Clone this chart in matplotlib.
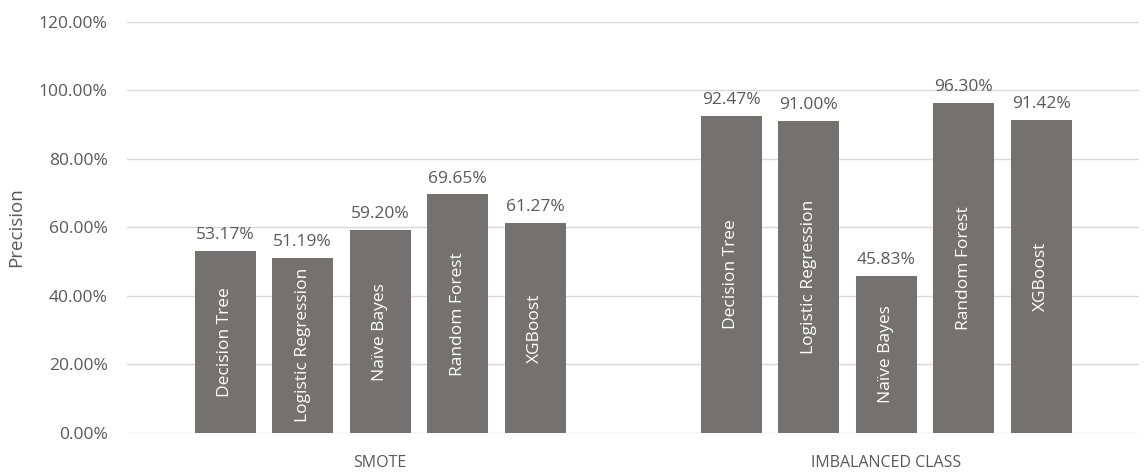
import numpy as np
import matplotlib.pyplot as plt
from matplotlib.ticker import FuncFormatter

# data
groups = ["SMOTE", "IMBALANCED CLASS"]
models = ["Decision Tree", "Logistic Regression", "Naïve Bayes", "Random Forest", "XGBoost"]
smote = [53.17, 51.19, 59.20, 69.65, 61.27]
imbalanced = [92.47, 91.00, 45.83, 96.30, 91.42]

BAR = "#767171"
TXT = "#595959"
GRID = "#d9d9d9"

plt.rcParams["font.family"] = ["Open Sans", "DejaVu Sans"]

fig = plt.figure(figsize=(11.45, 4.73), dpi=100)
ax = fig.add_axes([0.111, 0.0846, 0.8838, 0.869])

step = 0.1532
width = 0.1205
for g, vals in enumerate([smote, imbalanced]):
    xs = g + (np.arange(len(models)) - 2) * step
    ax.bar(xs, vals, width=width, color=BAR, zorder=2)
    for x, v, name in zip(xs, vals, models):
        ax.text(x, v + 2.3, f"{v:.2f}%", ha="center", va="bottom",
                fontsize=12.5, color=TXT)
        ax.text(x, v / 2, name, ha="center", va="center", rotation=90,
                fontsize=12.5, color="white")

ax.set_xlim(-0.5, 1.5)
ax.set_ylim(0, 120)
ax.set_yticks(np.arange(0, 121, 20))
ax.yaxis.set_major_formatter(FuncFormatter(lambda v, p: f"{v:.2f}%"))
ax.set_xticks([0, 1])
ax.set_xticklabels(groups)
ax.tick_params(axis="both", length=0, labelsize=12.5, colors=TXT)
ax.tick_params(axis="y", pad=14)
ax.tick_params(axis="x", labelsize=11.5, pad=16)
ax.grid(axis="y", color=GRID, linewidth=1, zorder=0)
for s in ax.spines.values():
    s.set_visible(False)
ax.set_ylabel("Precision", fontsize=13.5, color=TXT, labelpad=10)

fig.savefig("out.png", dpi=100)
